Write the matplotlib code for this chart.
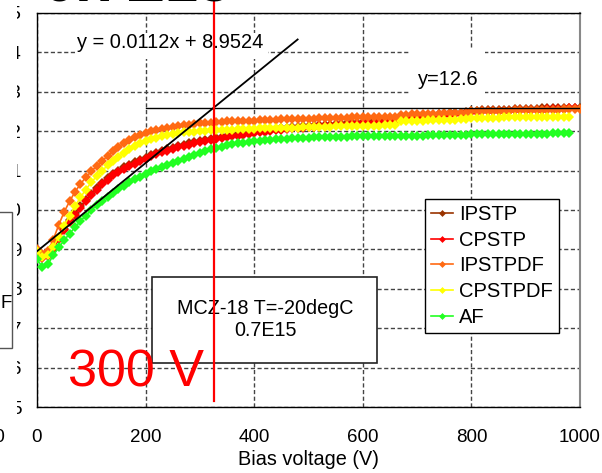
import numpy as np
import matplotlib
matplotlib.use("Agg")
import matplotlib.pyplot as plt
from matplotlib.patches import Rectangle

plt.rcParams['font.family'] = ['Liberation Sans', 'DejaVu Sans']

# bias voltage grid (V)
bias = [0, 10, 20, 30, 40, 50, 60, 70, 80, 90,
        100, 110, 120, 130, 140, 150, 160, 170, 180, 190,
        200, 210, 220, 230, 240, 250, 260, 270, 280, 290,
        300, 310, 320, 330, 340, 350, 360, 370, 380, 390,
        400, 410, 420, 430, 440, 450, 460, 470, 480, 490,
        500, 510, 520, 530, 540, 550, 560, 570, 580, 590,
        600, 610, 620, 630, 640, 650, 660, 670, 680, 690,
        700, 710, 720, 730, 740, 750, 760, 770, 780, 790,
        800, 810, 820, 830, 840, 850, 860, 870, 880, 890,
        900, 910, 920, 930, 940, 950, 960, 970, 980, 990, 1000]

ipstp = [8.90, 8.80, 8.85, 9.05, 9.30, 9.52, 9.74, 9.92, 10.09, 10.25,
         10.41, 10.55, 10.68, 10.80, 10.91, 11.00, 11.08, 11.15, 11.21, 11.27,
         11.33, 11.39, 11.44, 11.49, 11.54, 11.58, 11.62, 11.66, 11.69, 11.72,
         11.75, 11.78, 11.81, 11.84, 11.86, 11.88, 11.90, 11.92, 11.94, 11.96,
         11.98, 12.00, 12.02, 12.04, 12.06, 12.07, 12.09, 12.10, 12.11, 12.12,
         12.13, 12.14, 12.15, 12.16, 12.17, 12.18, 12.19, 12.20, 12.21, 12.22,
         12.23, 12.24, 12.25, 12.26, 12.27, 12.28, 12.29, 12.36, 12.37, 12.38,
         12.39, 12.40, 12.41, 12.42, 12.43, 12.44, 12.45, 12.46, 12.47, 12.48,
         12.51, 12.52, 12.53, 12.53, 12.54, 12.54, 12.55, 12.55, 12.56, 12.56,
         12.57, 12.57, 12.57, 12.58, 12.58, 12.58, 12.59, 12.59, 12.59, 12.60, 12.60]

cpstp = [8.88, 8.78, 8.82, 9.02, 9.26, 9.48, 9.70, 9.88, 10.05, 10.22,
         10.38, 10.52, 10.65, 10.77, 10.88, 10.97, 11.05, 11.12, 11.18, 11.24,
         11.30, 11.36, 11.41, 11.46, 11.51, 11.55, 11.59, 11.63, 11.66, 11.69,
         11.72, 11.75, 11.78, 11.81, 11.83, 11.85, 11.87, 11.89, 11.91, 11.93,
         11.95, 11.97, 11.99, 12.01, 12.03, 12.04, 12.06, 12.07, 12.08, 12.09,
         12.10, 12.11, 12.12, 12.13, 12.14, 12.15, 12.16, 12.17, 12.18, 12.19,
         12.20, 12.21, 12.22, 12.23, 12.24, 12.25, 12.26, 12.33, 12.34, 12.35,
         12.36, 12.37, 12.38, 12.39, 12.40, 12.41, 12.42, 12.43, 12.44, 12.45,
         12.48, 12.49, 12.50, 12.50, 12.51, 12.51, 12.52, 12.52, 12.53, 12.53,
         12.54, 12.54, 12.55, 12.55, 12.56, 12.56, 12.57, 12.57, 12.58, 12.58]

ipstpdf = [9.00, 8.88, 8.95, 9.25, 9.62, 9.95, 10.22, 10.46, 10.66, 10.83,
           10.98, 11.12, 11.25, 11.37, 11.49, 11.60, 11.70, 11.78, 11.85, 11.91,
           11.96, 12.00, 12.03, 12.06, 12.09, 12.11, 12.13, 12.15, 12.17, 12.18,
           12.20, 12.21, 12.22, 12.23, 12.24, 12.25, 12.25, 12.26, 12.26, 12.27,
           12.27, 12.28, 12.28, 12.29, 12.29, 12.30, 12.30, 12.31, 12.31, 12.32,
           12.32, 12.32, 12.33, 12.33, 12.33, 12.34, 12.34, 12.34, 12.35, 12.35,
           12.35, 12.36, 12.36, 12.36, 12.37, 12.37, 12.37, 12.42, 12.42, 12.43,
           12.43, 12.43, 12.44, 12.44, 12.44, 12.45, 12.45, 12.45, 12.46, 12.46,
           12.50, 12.50, 12.51, 12.51, 12.51, 12.52, 12.52, 12.52, 12.53, 12.53,
           12.53, 12.54, 12.54, 12.54, 12.55, 12.55, 12.55, 12.56, 12.56, 12.57, 12.57]

cpstpdf = [8.95, 8.80, 8.85, 9.05, 9.32, 9.60, 9.86, 10.10, 10.32, 10.52,
           10.70, 10.86, 11.00, 11.13, 11.25, 11.35, 11.45, 11.54, 11.62, 11.69,
           11.75, 11.80, 11.84, 11.88, 11.91, 11.93, 11.95, 11.97, 11.98, 11.99,
           12.00, 12.01, 12.02, 12.03, 12.03, 12.04, 12.04, 12.05, 12.05, 12.06,
           12.06, 12.07, 12.07, 12.08, 12.08, 12.08, 12.09, 12.09, 12.09, 12.10,
           12.10, 12.10, 12.11, 12.11, 12.11, 12.12, 12.12, 12.12, 12.13, 12.13,
           12.13, 12.14, 12.14, 12.14, 12.15, 12.15, 12.15, 12.25, 12.26, 12.26,
           12.27, 12.27, 12.28, 12.28, 12.28, 12.29, 12.29, 12.29, 12.30, 12.30,
           12.33, 12.33, 12.34, 12.34, 12.34, 12.34, 12.35, 12.35, 12.35, 12.35,
           12.35, 12.36, 12.36, 12.36, 12.36, 12.36, 12.37, 12.37, 12.37]

af = [8.75, 8.55, 8.62, 8.85, 9.05, 9.23, 9.40, 9.56, 9.72, 9.86,
      10.00, 10.12, 10.23, 10.34, 10.44, 10.53, 10.62, 10.70, 10.78, 10.85,
      10.92, 10.98, 11.04, 11.10, 11.15, 11.20, 11.25, 11.30, 11.35, 11.40,
      11.45, 11.50, 11.54, 11.58, 11.61, 11.64, 11.67, 11.69, 11.71, 11.73,
      11.75, 11.76, 11.77, 11.78, 11.79, 11.80, 11.81, 11.82, 11.83, 11.84,
      11.84, 11.85, 11.85, 11.85, 11.86, 11.86, 11.86, 11.86, 11.87, 11.87,
      11.87, 11.87, 11.88, 11.88, 11.88, 11.88, 11.88, 11.89, 11.89, 11.89,
      11.89, 11.89, 11.90, 11.90, 11.90, 11.90, 11.91, 11.91, 11.91, 11.91,
      11.92, 11.92, 11.92, 11.92, 11.92, 11.93, 11.93, 11.93, 11.93, 11.93,
      11.94, 11.94, 11.94, 11.94, 11.94, 11.95, 11.95, 11.95, 11.95]

series_names = ['IPSTP', 'CPSTP', 'IPSTPDF', 'CPSTPDF', 'AF']
series_vals = [ipstp, cpstp, ipstpdf, cpstpdf, af]
series_cols = ['#993300', '#FF0000', '#FF6A13', '#FFFF00', '#22FF22']

# linear fit and saturation level
slope, intercept = 0.0112, 8.9524
fit_x = [0, 480]
sat_level = 12.6
sat_x = [200, 1000]
depletion_v = (sat_level - intercept) / slope

fig = plt.figure(figsize=(6.02, 4.73), dpi=100)
ax = fig.add_axes([37 / 602, 1 - 407 / 473, 543 / 602, 394 / 473])

for name, vals, col in zip(series_names, series_vals, series_cols):
    ax.plot(bias[:len(vals)], vals, color=col, lw=1.2, marker='D', ms=5,
            mew=0, label=name, zorder=3)

fx = np.array(fit_x)
ax.plot(fx, slope * fx + intercept, color='black', lw=1.3, zorder=4)
ax.plot(sat_x, [sat_level, sat_level], color='black', lw=1.0, zorder=4)

# white areas behind the two equation labels
ax.add_patch(Rectangle((74, 13.84), 351, 0.64, facecolor='white', edgecolor='none', zorder=2))
ax.add_patch(Rectangle((687, 12.66), 138, 1.45, facecolor='white', edgecolor='none', zorder=2))
ax.text(245, 14.26, 'y = 0.0112x + 8.9524', fontsize=14.4, ha='center', va='center', zorder=5)
ax.text(757, 13.32, 'y=12.6', fontsize=14.4, ha='center', va='center', zorder=5)

# sample info box
ax.add_patch(Rectangle((212, 6.12), 414, 2.18, facecolor='white', edgecolor='#222222', lw=1.2, zorder=5))
ax.text(420, 7.22, 'MCZ-18 T=-20degC\n0.7E15', fontsize=14.2, ha='center', va='center',
        linespacing=1.25, zorder=6)

ax.plot([depletion_v, depletion_v], [5.15, 15.4], color='#FF0000', lw=1.6, zorder=7, clip_on=False)
ax.text(57, 5.51, '300 V', color='#FF0000', fontsize=37.5, ha='left', va='baseline', zorder=8)

ax.set_xlim(0, 1000)
ax.set_ylim(5, 15)
ax.set_xticks([0, 200, 400, 600, 800, 1000])
ax.set_yticks(range(5, 16))
ax.tick_params(length=0, labelsize=13.5)
ax.tick_params(axis='x', pad=16)
ax.tick_params(axis='y', pad=11)
ax.grid(True, color='#444444', lw=1, linestyle=(0, (3, 1.8)), zorder=1)
ax.set_axisbelow(True)
for s in ['left', 'bottom', 'top']:
    ax.spines[s].set_color('black')
    ax.spines[s].set_linewidth(1)
ax.spines['right'].set_color('#888888')
ax.spines['right'].set_linewidth(1.5)
ax.set_xlabel('Bias voltage (V)', fontsize=14.3, labelpad=3)

leg = ax.legend(loc='upper left', bbox_to_anchor=(0.7145, 0.528), fontsize=14.5,
                frameon=True, fancybox=False, edgecolor='black', framealpha=1,
                handlelength=1.1, handletextpad=0.3, labelspacing=0.33,
                borderpad=0.3, borderaxespad=0, markerscale=0.7)
leg.get_frame().set_linewidth(1)
leg.set_zorder(9)

# neighbouring slide content clipped at the left and top
fig.patches.append(Rectangle((0, 0), 17 / 602, 1, transform=fig.transFigure,
                             facecolor='white', edgecolor='none', zorder=10))
fig.patches.append(Rectangle((-5 / 602, 1 - 348 / 473), 16.5 / 602, 136 / 473,
                             transform=fig.transFigure, facecolor='white',
                             edgecolor='#555555', lw=1, zorder=11))
fig.text(6 / 602, 1 - 303 / 473, 'F', fontsize=13.5, ha='center', va='center', zorder=12)
fig.text(5 / 602, 1 - 437 / 473, '10', fontsize=13.5, ha='right', va='center', zorder=12)
fig.text(43 / 602, 1 - 2 / 473, '0.7E15', fontsize=43, fontweight='bold',
         ha='left', va='baseline', zorder=12)

fig.savefig('out.png', dpi=100)
